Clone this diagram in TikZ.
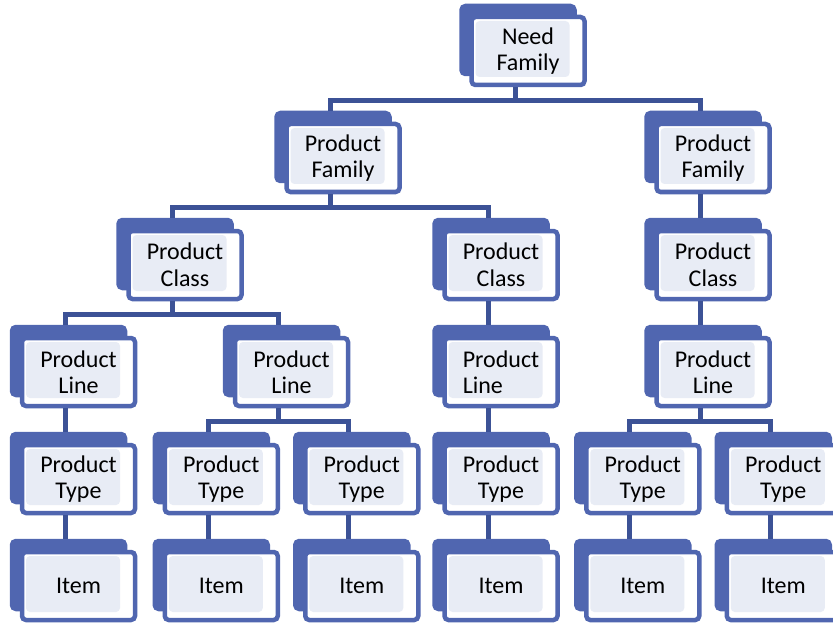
\documentclass[tikz,border=0pt]{standalone}
\usepackage{fontspec}
\setmainfont{Carlito}
\usetikzlibrary{shadows}

\definecolor{boxblue}{RGB}{80,102,176}
\definecolor{linkblue}{RGB}{60,82,150}
\definecolor{paleblue}{RGB}{232,236,245}

\tikzset{
  unit/.style={rectangle, rounded corners=4pt, draw=boxblue, line width=4.5pt,
    fill=white, minimum width=113pt, minimum height=68pt, inner sep=0pt,
    align=center, font=\fontsize{24}{26.5}\selectfont,
    copy shadow={shadow xshift=-10pt, shadow yshift=11pt, fill=boxblue, draw=boxblue},
    path picture={\fill[paleblue]
      ([shift={(4pt,-4pt)}]path picture bounding box.north west) rectangle
      ([shift={(-15pt,8pt)}]path picture bounding box.south east);}}
}

\begin{document}
\begin{tikzpicture}[x=1pt,y=1pt,
  level distance=107pt,
  level 1/.style={sibling distance=370pt},
  level 2/.style={sibling distance=316pt},
  level 3/.style={sibling distance=213pt},
  level 4/.style={sibling distance=140.5pt},
  every node/.style={unit},
  edge from parent/.style={draw=linkblue, line width=5pt},
  edge from parent path={([xshift=-13pt]\tikzparentnode.south) -- ++(0,-13.5pt)
    -| ([xshift=-13pt,yshift=11pt]\tikzchildnode.north)}]
\useasboundingbox (0,0) rectangle (833,-623);
\node (nf) at (528,-51) {Need\\Family}
  child {node (pf1) {Product\\Family}
    child {node (pc1) {Product\\Class}
      child {node (pl1) {Product\\Line}
        child {node (pt1) {Product\\Type}
          child {node (it1) {Item}}
        }
      }
      child {node (pl2) {Product\\Line}
        child {node (pt2) {Product\\Type}
          child {node (it2) {Item}}
        }
        child {node (pt3) {Product\\Type}
          child {node (it3) {Item}}
        }
      }
    }
    child {node (pc2) {Product\\Class}
      child {node [align=left] (pl3) {Product\\Line}
        child {node (pt4) {Product\\Type}
          child {node (it4) {Item}}
        }
      }
    }
  }
  child {node (pf2) {Product\\Family}
    child {node (pc3) {Product\\Class}
      child {node (pl4) {Product\\Line}
        child {node (pt5) {Product\\Type}
          child {node (it5) {Item}}
        }
        child {node (pt6) {Product\\Type}
          child {node (it6) {Item}}
        }
      }
    }
  };
\end{tikzpicture}
\end{document}
